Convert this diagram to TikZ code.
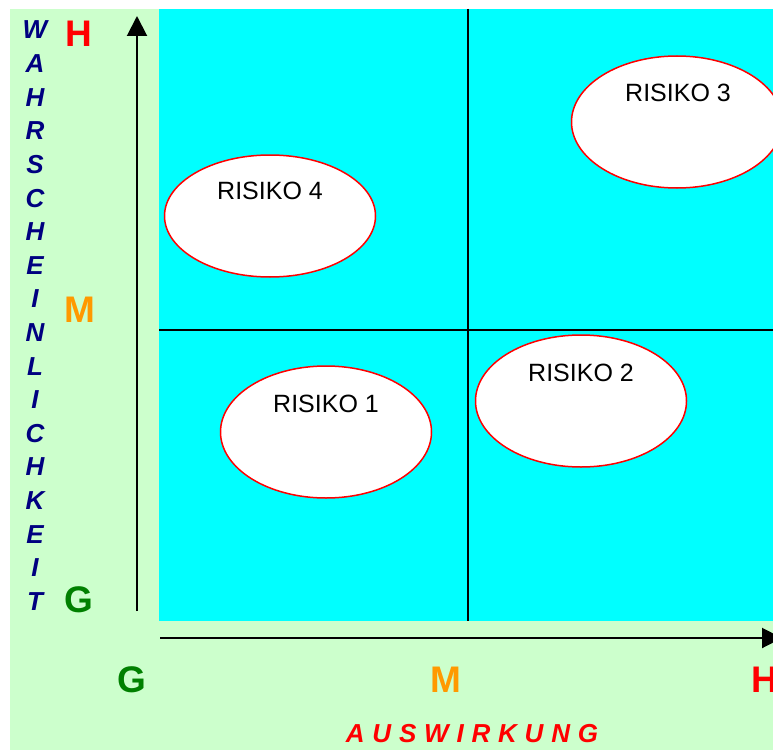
\documentclass[tikz,border=0pt]{standalone}
\usepackage{fontspec}
\setmainfont{Liberation Sans}
\usetikzlibrary{arrows.meta,shapes.geometric}
\definecolor{bggreen}{RGB}{204,255,204}
\definecolor{cyanfill}{RGB}{0,255,255}
\definecolor{navyc}{RGB}{0,0,128}
\definecolor{orangec}{RGB}{255,153,0}
\definecolor{greenc}{RGB}{0,128,0}
\definecolor{redc}{RGB}{255,0,0}
\newcommand{\gp}{\hspace{7.8pt}}
\begin{document}
\begin{tikzpicture}[x=1pt,y=-1pt,
  risk/.style={ellipse,draw=redc,line width=1.5pt,fill=white,minimum width=211pt,minimum height=132pt,inner sep=0pt},
  risktext/.style={anchor=base,font=\fontsize{25}{25}\selectfont,inner sep=0pt},
  vletter/.style={anchor=base,font=\fontsize{26}{26}\selectfont\bfseries\itshape,text=navyc,inner sep=0pt},
  level/.style={anchor=base,font=\fontsize{37}{37}\selectfont\bfseries,inner sep=0pt},
  grid line/.style={line width=2.8pt,black},
  axis/.style={line width=2pt,black,-{Triangle[width=20pt,length=20pt]}}
]
\useasboundingbox (0,0) rectangle (773,749);
\clip (0,0) rectangle (773,749);
\fill[bggreen] (10,9) rectangle (800,760);
\fill[cyanfill] (159,9) rectangle (800,621);
% grid
\draw[grid line] (468,9) -- (468,621);
\draw[grid line] (159,330) -- (800,330);
% axes
\coordinate (ystart) at (137,611);
\coordinate (yend) at (137,16);
\coordinate (xstart) at (160,638);
\coordinate (xend) at (782,638);
\draw[axis] (ystart) -- (yend);
\draw[axis] (xstart) -- (xend);
% ellipses
\node[risk,minimum height=122pt] (r4) at (270,216) {};
\node[risk] (r3) at (677,122) {};
\node[risk] (r1) at (326,432) {};
\node[risk] (r2) at (581,401) {};
\node[risktext] (t4) at (270,199) {RISIKO 4};
\node[risktext] (t3) at (678,102) {RISIKO 3};
\node[risktext] (t1) at (326,412) {RISIKO 1};
\node[risktext] (t2) at (581,381) {RISIKO 2};
% vertical label
\foreach \l [count=\i] in {W,A,H,R,S,C,H,E,I,N,L,I,C,H,K,E,I,T}{
  \node[vletter] (v\i) at (35,{39+(\i-1)*33.6}) {\l};
}
% levels
\node[level,text=redc] (lh) at (79,47) {H};
\node[level,text=orangec] (lm) at (80,322) {M};
\node[level,text=greenc] (lg) at (79,612) {G};
\node[level,text=greenc] (bg) at (132,692) {G};
\node[level,text=orangec] (bm) at (446,692) {M};
\node[level,text=redc] (bh) at (765,692) {H};
\node[anchor=base,font=\fontsize{26}{26}\selectfont\bfseries\itshape,text=redc,inner sep=0pt] (aus) at (472,742) {A\gp U\gp S\gp W\gp I\gp R\gp K\gp U\gp N\gp G};
\end{tikzpicture}
\end{document}
